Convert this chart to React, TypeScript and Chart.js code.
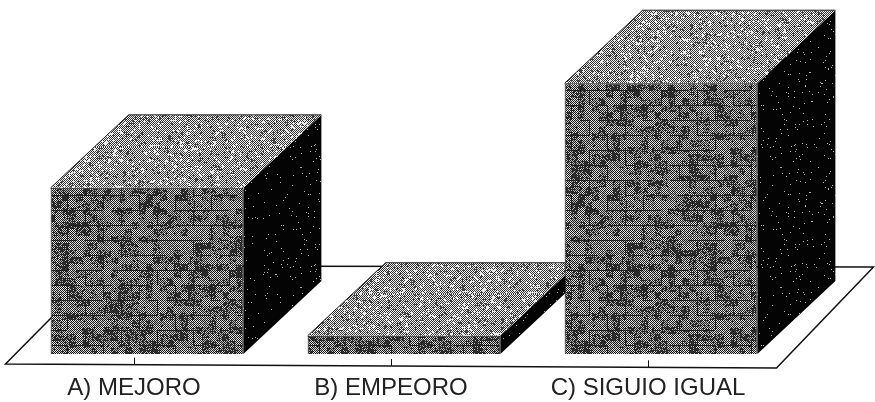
import React, { useEffect, useRef } from "react";
import { Chart, registerables } from "chart.js";

Chart.register(...registerables);

const categories = ["A) MEJORO", "B) EMPEORO", "C) SIGUIO IGUAL"];
const values = [36.5, 4, 59.5];

const DEPTH_X = 78;
const DEPTH_Y = 73;
const BAR_SHIFT = 13;

function hash(x: number, y: number) {
  const s = Math.sin(x * 127.1 + y * 311.7) * 43758.5453;
  return s - Math.floor(s);
}

function blockNoise(x: number, y: number, size: number) {
  return hash(Math.floor(x / size) + 3, Math.floor(y / size) + 7);
}

function makeTile(
  w: number,
  h: number,
  pixel: (x: number, y: number) => number
): CanvasPattern {
  const c = document.createElement("canvas");
  c.width = w;
  c.height = h;
  const ctx = c.getContext("2d")!;
  const img = ctx.createImageData(w, h);
  for (let y = 0; y < h; y++) {
    for (let x = 0; x < w; x++) {
      const v = pixel(x, y);
      const i = (y * w + x) * 4;
      img.data[i] = v;
      img.data[i + 1] = v;
      img.data[i + 2] = v;
      img.data[i + 3] = 255;
    }
  }
  ctx.putImageData(img, 0, 0);
  return ctx.createPattern(c, "repeat")!;
}

function brickPattern() {
  const W = 216;
  const H = 180;
  const rowH = 15;
  const brickW = 36;
  return makeTile(W, H, (x, y) => {
    const row = Math.floor(y / rowH);
    const off = row % 2 ? brickW / 2 : 0;
    const mortarH = y % rowH === 0 && hash(Math.floor(x / 9), row) > 0.3;
    const mortarV =
      (x + off) % brickW === 0 && hash(Math.floor((x + off) / brickW), row) > 0.35;
    const checker = (x + y) % 2 === 0;
    if (mortarH || mortarV) return checker ? 60 : 5;
    if (!checker) return 25;
    const dark = blockNoise(x, y, 7) * 0.55 + hash(x, y) * 0.45;
    return dark < 0.34 ? 60 : dark > 0.58 ? 230 : 185;
  });
}

function topPattern() {
  const W = 189;
  const H = 147;
  return makeTile(W, H, (x, y) => {
    const checker = (x + y) % 2 === 0;
    const streak = blockNoise(x, y, 3) * 0.5 + hash(x, y) * 0.5;
    if (checker) return streak < 0.2 ? 90 : 245;
    return streak > 0.8 ? 220 : 50;
  });
}

function sidePattern() {
  const W = 120;
  const H = 120;
  return makeTile(W, H, (x, y) => (hash(x, y) > 0.985 ? 170 : 4));
}

export default function App() {
  const ref = useRef<HTMLCanvasElement>(null);

  useEffect(() => {
    document.body.style.margin = "0";
    const canvas = ref.current!;
    const front = brickPattern();
    const top = topPattern();
    const side = sidePattern();

    const cube3d = {
      id: "cube3d",
      beforeDatasetsDraw(chart: any) {
        const { ctx, chartArea } = chart;
        const xs = chart.scales.x;
        const l = chartArea.left;
        const r = chartArea.right;
        const b = chartArea.bottom;

        ctx.save();
        ctx.strokeStyle = "#111";
        ctx.fillStyle = "#fff";
        ctx.lineWidth = 1.5;
        ctx.beginPath();
        ctx.moveTo(l, b - 2);
        ctx.lineTo(r, b + 2);
        ctx.lineTo(r + 97, b - 99);
        ctx.lineTo(l + 97, b - 100);
        ctx.closePath();
        ctx.fill();
        ctx.stroke();

        ctx.lineWidth = 1;
        xs.ticks.forEach((_: unknown, i: number) => {
          const x = Math.round(xs.getPixelForTick(i)) + 0.5;
          const y = b - 2 + (4 * (x - l)) / (r - l);
          ctx.beginPath();
          ctx.moveTo(x, y);
          ctx.lineTo(x, y - 7);
          ctx.stroke();
        });

        const bars = chart.getDatasetMeta(0).data;
        bars.forEach((bar: any) => {
          const half = bar.width / 2;
          const x0 = bar.x - half + BAR_SHIFT;
          const x1 = bar.x + half + BAR_SHIFT;
          const yt = bar.y;
          const yb = bar.base;

          ctx.fillStyle = side;
          ctx.beginPath();
          ctx.moveTo(x1, yt);
          ctx.lineTo(x1 + DEPTH_X, yt - DEPTH_Y);
          ctx.lineTo(x1 + DEPTH_X, yb - DEPTH_Y);
          ctx.lineTo(x1, yb);
          ctx.closePath();
          ctx.fill();

          ctx.fillStyle = top;
          ctx.beginPath();
          ctx.moveTo(x0, yt);
          ctx.lineTo(x0 + DEPTH_X, yt - DEPTH_Y);
          ctx.lineTo(x1 + DEPTH_X, yt - DEPTH_Y);
          ctx.lineTo(x1, yt);
          ctx.closePath();
          ctx.fill();

          ctx.lineWidth = 1;
          ctx.strokeStyle = "#222";
          ctx.beginPath();
          ctx.moveTo(x0, yt);
          ctx.lineTo(x0 + DEPTH_X, yt - DEPTH_Y);
          ctx.lineTo(x1 + DEPTH_X, yt - DEPTH_Y);
          ctx.stroke();
        });

        ctx.restore();
        ctx.save();
        ctx.translate(BAR_SHIFT, 0);
      },
      afterDatasetsDraw(chart: any) {
        chart.ctx.restore();
      },
    };

    const chart = new Chart(canvas, {
      type: "bar",
      data: {
        labels: categories,
        datasets: [
          {
            data: values,
            backgroundColor: front as any,
            borderColor: "#111",
            borderWidth: 1,
            barPercentage: 0.75,
            categoryPercentage: 1,
            clip: false as any,
          },
        ],
      },
      options: {
        animation: false,
        responsive: false,
        events: [],
        layout: { padding: { left: 5.5, right: 98.5, top: 4, bottom: 0 } },
        plugins: { legend: { display: false }, tooltip: { enabled: false } },
        scales: {
          x: {
            type: "category",
            border: { display: false },
            grid: { display: false },
            afterFit(scale: any) {
              scale.height = 36;
            },
            ticks: {
              autoSkip: false,
              maxRotation: 0,
              minRotation: 0,
              padding: 0,
              color: "#222",
              font: { family: "'Liberation Sans', Arial, sans-serif", size: 24 },
            },
          },
          y: { display: false, min: -2.64, max: 76.9 },
        },
      },
      plugins: [cube3d],
    } as any);

    return () => chart.destroy();
  }, []);

  return <canvas ref={ref} width={875} height={402} style={{ display: "block" }} />;
}
